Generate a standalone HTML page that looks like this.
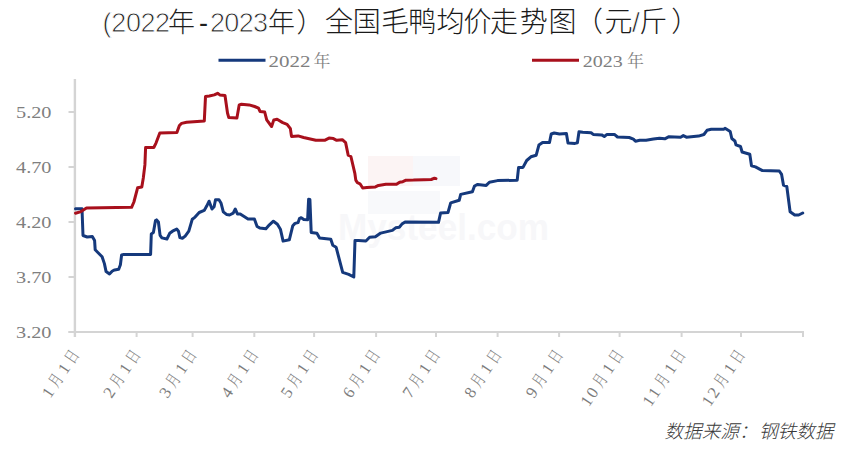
<!DOCTYPE html>
<html><head><meta charset="utf-8"><title>全国毛鸭均价走势图</title>
<style>
html,body{margin:0;padding:0;background:#fff;}
body{width:852px;height:453px;overflow:hidden;position:relative;}
svg{display:block;position:absolute;left:0;top:0;}
</style></head><body>
<svg width="852" height="453" viewBox="0 0 852 453">
<rect x="368" y="156" width="45" height="30" fill="#fcf4f4"/>
<rect x="413" y="156" width="47" height="30" fill="#f7f8fb"/>
<rect x="368" y="191" width="72" height="23" fill="#f8f9fb"/>
<text x="338" y="239.5" font-family="Liberation Sans, sans-serif" font-weight="bold" font-size="36" fill="#f7f7f9" textLength="211" lengthAdjust="spacingAndGlyphs">Mysteel.com</text>
<g stroke="#d4d4d4" stroke-width="2" fill="none">
<line x1="74.9" y1="79" x2="74.9" y2="337" stroke-width="2.4"/>
<line x1="68.5" y1="332" x2="804" y2="332"/>
<line x1="68.5" y1="112" x2="75" y2="112"/>
<line x1="68.5" y1="167" x2="75" y2="167"/>
<line x1="68.5" y1="222" x2="75" y2="222"/>
<line x1="68.5" y1="277" x2="75" y2="277"/>
<line x1="68.5" y1="332" x2="75" y2="332"/>
<line x1="136.6" y1="332" x2="136.6" y2="337"/>
<line x1="192.6" y1="332" x2="192.6" y2="337"/>
<line x1="254.3" y1="332" x2="254.3" y2="337"/>
<line x1="314.1" y1="332" x2="314.1" y2="337"/>
<line x1="376.1" y1="332" x2="376.1" y2="337"/>
<line x1="436" y1="332" x2="436" y2="337"/>
<line x1="497.6" y1="332" x2="497.6" y2="337"/>
<line x1="559.1" y1="332" x2="559.1" y2="337"/>
<line x1="619.6" y1="332" x2="619.6" y2="337"/>
<line x1="681.6" y1="332" x2="681.6" y2="337"/>
<line x1="741" y1="332" x2="741" y2="337"/>
<line x1="803" y1="332" x2="803" y2="337"/>
</g>
<g font-family="Liberation Serif, serif" font-size="17" fill="#7f7f7f" text-anchor="end">
<text x="51.5" y="117.5" textLength="35.5" lengthAdjust="spacingAndGlyphs">5.20</text>
<text x="51.5" y="172.5" textLength="35.5" lengthAdjust="spacingAndGlyphs">4.70</text>
<text x="51.5" y="227.5" textLength="35.5" lengthAdjust="spacingAndGlyphs">4.20</text>
<text x="51.5" y="282.5" textLength="35.5" lengthAdjust="spacingAndGlyphs">3.70</text>
<text x="51.5" y="337.5" textLength="35.5" lengthAdjust="spacingAndGlyphs">3.20</text>
</g>
<g font-family="Liberation Serif, Noto Serif CJK SC, serif" font-size="16.5" fill="#7d7d7d">
<text transform="translate(71.90,356.60) rotate(-56)" y="5.6"><tspan x="-47.25">1</tspan><tspan x="-34.69" textLength="11.88" lengthAdjust="spacingAndGlyphs">月</tspan><tspan x="-18.50">1</tspan><tspan x="-5.94" textLength="11.88" lengthAdjust="spacingAndGlyphs">日</tspan></text>
<text transform="translate(133.20,356.60) rotate(-56)" y="5.6"><tspan x="-47.25">2</tspan><tspan x="-34.69" textLength="11.88" lengthAdjust="spacingAndGlyphs">月</tspan><tspan x="-18.50">1</tspan><tspan x="-5.94" textLength="11.88" lengthAdjust="spacingAndGlyphs">日</tspan></text>
<text transform="translate(189.20,356.60) rotate(-56)" y="5.6"><tspan x="-47.25">3</tspan><tspan x="-34.69" textLength="11.88" lengthAdjust="spacingAndGlyphs">月</tspan><tspan x="-18.50">1</tspan><tspan x="-5.94" textLength="11.88" lengthAdjust="spacingAndGlyphs">日</tspan></text>
<text transform="translate(250.90,356.60) rotate(-56)" y="5.6"><tspan x="-47.25">4</tspan><tspan x="-34.69" textLength="11.88" lengthAdjust="spacingAndGlyphs">月</tspan><tspan x="-18.50">1</tspan><tspan x="-5.94" textLength="11.88" lengthAdjust="spacingAndGlyphs">日</tspan></text>
<text transform="translate(310.70,356.60) rotate(-56)" y="5.6"><tspan x="-47.25">5</tspan><tspan x="-34.69" textLength="11.88" lengthAdjust="spacingAndGlyphs">月</tspan><tspan x="-18.50">1</tspan><tspan x="-5.94" textLength="11.88" lengthAdjust="spacingAndGlyphs">日</tspan></text>
<text transform="translate(372.70,356.60) rotate(-56)" y="5.6"><tspan x="-47.25">6</tspan><tspan x="-34.69" textLength="11.88" lengthAdjust="spacingAndGlyphs">月</tspan><tspan x="-18.50">1</tspan><tspan x="-5.94" textLength="11.88" lengthAdjust="spacingAndGlyphs">日</tspan></text>
<text transform="translate(432.60,356.60) rotate(-56)" y="5.6"><tspan x="-47.25">7</tspan><tspan x="-34.69" textLength="11.88" lengthAdjust="spacingAndGlyphs">月</tspan><tspan x="-18.50">1</tspan><tspan x="-5.94" textLength="11.88" lengthAdjust="spacingAndGlyphs">日</tspan></text>
<text transform="translate(494.20,356.60) rotate(-56)" y="5.6"><tspan x="-47.25">8</tspan><tspan x="-34.69" textLength="11.88" lengthAdjust="spacingAndGlyphs">月</tspan><tspan x="-18.50">1</tspan><tspan x="-5.94" textLength="11.88" lengthAdjust="spacingAndGlyphs">日</tspan></text>
<text transform="translate(555.70,356.60) rotate(-56)" y="5.6"><tspan x="-47.25">9</tspan><tspan x="-34.69" textLength="11.88" lengthAdjust="spacingAndGlyphs">月</tspan><tspan x="-18.50">1</tspan><tspan x="-5.94" textLength="11.88" lengthAdjust="spacingAndGlyphs">日</tspan></text>
<text transform="translate(616.20,356.60) rotate(-56)" y="5.6"><tspan x="-57.50">1</tspan><tspan x="-47.25">0</tspan><tspan x="-34.69" textLength="11.88" lengthAdjust="spacingAndGlyphs">月</tspan><tspan x="-18.50">1</tspan><tspan x="-5.94" textLength="11.88" lengthAdjust="spacingAndGlyphs">日</tspan></text>
<text transform="translate(678.20,356.60) rotate(-56)" y="5.6"><tspan x="-57.50">1</tspan><tspan x="-47.25">1</tspan><tspan x="-34.69" textLength="11.88" lengthAdjust="spacingAndGlyphs">月</tspan><tspan x="-18.50">1</tspan><tspan x="-5.94" textLength="11.88" lengthAdjust="spacingAndGlyphs">日</tspan></text>
<text transform="translate(737.60,356.60) rotate(-56)" y="5.6"><tspan x="-57.50">1</tspan><tspan x="-47.25">2</tspan><tspan x="-34.69" textLength="11.88" lengthAdjust="spacingAndGlyphs">月</tspan><tspan x="-18.50">1</tspan><tspan x="-5.94" textLength="11.88" lengthAdjust="spacingAndGlyphs">日</tspan></text>
</g>
<polyline points="75.5,208.7 82,208.7 83,235.5 87.2,237 92.3,236.6 94.6,240.6 95.2,249.8 98.1,252.7 102.1,256.7 104.4,263.6 106.1,271.6 109.5,273.9 112.4,271 114.7,269.9 118.7,269.3 120.4,264.7 121.6,255 123.9,254.4 150.6,254.4 151.3,234 153.4,232.6 155.5,220.6 156.6,219.9 158.4,222 160.1,235.4 161.9,237.9 166.9,239 169.7,233.3 172.5,231.2 176.7,229.1 178.5,231.2 179.9,237.6 182.4,238.3 185.2,236.1 188.8,231.2 192.3,219.2 195.1,217.1 199.2,212.5 204.2,210.4 206.7,206.1 209.1,201.2 212,209 214.1,206.8 215.5,199.8 219,199.8 221.1,203.3 223.3,211.8 226.8,214.6 229.6,215 233.2,213.2 235.3,209 237.4,213.9 240.2,213.9 244.5,216.7 248,218.9 254.4,219 257.1,226.5 259.7,227.9 265.9,228.7 269.4,224.8 273.4,221.2 277.4,224.3 280.4,229.2 283.1,241.1 289.3,239.8 292.8,225.7 295,223.4 298.1,222.6 299.4,218.6 301.2,217.7 303.8,219.5 307.6,219.8 308.6,199.3 309.9,199.5 311.2,232.4 316.9,233.3 319.6,237.9 330.8,239.2 332.8,245.2 336.1,247.2 342.7,272.3 348.7,274.3 353.8,277 355,240.5 358.5,240.5 365.9,241 369.6,237.3 375.4,236.8 380.7,233.1 392.4,230.4 395.6,227.8 399.3,227.3 401.9,224.1 405.1,222 438.5,222.3 440.6,213 448,212.5 450.7,202.9 459.2,200.3 460.7,194.4 472.4,191.8 474.5,186 477.7,184.4 486.2,185.4 489.4,182.2 497.5,180.6 517.2,180.2 518.6,167.4 523,167.4 526.7,160.5 530.9,156.8 536.2,155.2 538.9,145.1 542.6,142.5 549.5,142.5 551.2,134 554.2,133 559.5,134 566.4,133.5 568,143 575,143.4 577.4,142.8 579,131.7 582.7,132.3 591.1,132.8 593.2,134.4 601.7,134.9 604.3,136.5 607,134.4 614.4,134.4 617.5,137 629.2,137.5 633.4,139.1 635.5,141.2 639.7,140.2 646.1,140.2 653.4,139.1 659.5,138.2 664.8,138.8 669,136.7 680.6,137.2 683.3,135.6 686.4,137.2 698.6,136.1 703.9,134.5 707,130.3 711.3,129.3 723.9,129.3 725,128.2 730.2,131.5 731.8,138.5 734.9,141 736,144.9 740.5,146.5 742.1,152 749.8,154.2 751.5,165.8 755.4,166.9 762,170.4 779.3,171 781.6,174.4 783.5,185.2 786.8,186.5 790.1,211.7 794.7,215 798.7,215 802.7,213" fill="none" stroke="#15397c" stroke-width="3" stroke-linejoin="round" stroke-linecap="round"/>
<polyline points="75.5,213.2 80.2,211.9 86.5,207.9 131.6,207.3 133.9,202 137.6,187.8 141.8,187 143.3,178 144.9,164.9 145.6,147.5 153.8,147.5 156,143.1 159.8,132.9 176.9,132.5 179.4,125.5 181.6,123.4 186.6,122.3 204.3,120.9 205.5,96.6 209.3,96 214.3,94.9 217.6,93.3 219.8,94.9 225,95.5 227.5,113 228.8,117.6 236.9,118.1 239.2,104.9 241.4,104.3 249.1,104.9 254.6,106.5 258.5,108.2 260.1,111.5 264.7,112 266.7,119.9 271.6,126.5 273.8,119.9 277.1,119.3 282.7,122.6 287.1,124.3 290.4,128.7 291.5,136.4 298.1,135.9 303.6,137.5 311.4,139.2 315.8,140.3 324.6,140.3 329,138.1 333.4,138.6 336.7,140.3 342.3,139.7 345.6,142.6 348.2,155.2 350.9,156.5 354.9,173.7 355.8,180.1 357.4,182.7 360,183.8 362.7,188 366.9,187.5 375.4,186.9 378.5,185.4 385.9,184.3 396.5,184.3 399.6,182.2 402.8,181.7 406,180.2 413.4,180.1 423.9,179.7 431.3,179.5 434.5,178.2 436,178.6" fill="none" stroke="#a8101c" stroke-width="3" stroke-linejoin="round" stroke-linecap="round"/>
<line x1="218.5" y1="60.3" x2="265.5" y2="60.3" stroke="#15397c" stroke-width="3"/>
<line x1="532" y1="60.3" x2="579" y2="60.3" stroke="#a8101c" stroke-width="3"/>
<g font-family="Liberation Serif, Noto Serif CJK SC, serif" font-size="17" fill="#7f7f7f">
<text x="268.5" y="66.5"><tspan textLength="42" lengthAdjust="spacingAndGlyphs">2022</tspan><tspan x="313.5">年</tspan></text>
<text x="582.8" y="66.5"><tspan textLength="40" lengthAdjust="spacingAndGlyphs">2023</tspan><tspan x="627">年</tspan></text>
</g>
<text x="102.4 111.3 125.9 140.5 155.1 168 198.9 209.9 224.3 238.7 253.1 267.9 296.4" y="31.5" font-family="Liberation Sans, Noto Sans CJK SC, sans-serif" font-size="27" fill="#1e1e1e" font-weight="300"><tspan stroke="#fff" stroke-width="0.8">(2022</tspan>年-<tspan stroke="#fff" stroke-width="0.8">2023</tspan>年）</text>
<text x="325 352.8 380.9 408.3 436.4 463.5 490.1 519.8 548.5" y="31.8" font-family="Liberation Sans, Noto Sans CJK SC, sans-serif" font-size="28" fill="#1a1a1a" font-weight="300">全国毛鸭均价走势图</text>
<text x="574.9 604.5 632 639.2 671.2" y="31.8" font-family="Liberation Sans, Noto Sans CJK SC, sans-serif" font-size="28" fill="#1a1a1a" font-weight="300">（元<tspan stroke="#fff" stroke-width="0.7">/</tspan>斤）</text>
<g font-family="Liberation Sans, Noto Sans CJK SC, sans-serif" font-size="18.6" fill="#3a3a3a" font-style="italic" font-weight="300">
<text x="664.5" y="438.3">数据来源：</text>
<text x="759" y="438.3">钢铁数据</text>
</g>
</svg>
</body></html>
